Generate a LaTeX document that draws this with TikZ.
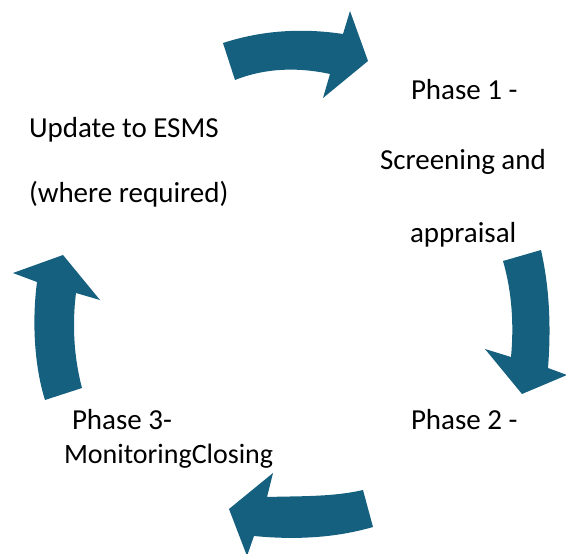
\documentclass[tikz,border=0pt]{standalone}
\usepackage{fontspec}
\setmainfont{Carlito}
\definecolor{arrowblue}{HTML}{16607F}
\begin{document}
\begin{tikzpicture}[x=1pt,y=-1pt,
  lbl/.style={anchor=base west,inner sep=0pt,outer sep=0pt,font=\fontsize{29}{34}\selectfont,text=black},
  blockarrow/.style={fill=arrowblue,draw=none}]
\useasboundingbox (0,0) rectangle (566,554);
% block arrows
\path[blockarrow] (223,43) .. controls (263,30) and (303,28) .. (343,34) -- (350,11) -- (368,61) -- (323,98) -- (330,74) .. controls (298,67) and (265,68) .. (235,80) -- cycle;
\path[blockarrow] (503,261) -- (541,250) .. controls (550,290) and (551,330) .. (548,368) -- (567,375) -- (522,394) -- (485,349) -- (511,357) .. controls (514,325) and (512,292) .. (503,261) -- cycle;
\path[blockarrow] (363,490) -- (373,527) .. controls (335,538) and (295,540) .. (254,536) -- (247,556) -- (229,509) -- (273,473) -- (267,497) .. controls (300,496) and (333,497) .. (363,490) -- cycle;
\path[blockarrow] (45,400) -- (82,388) .. controls (74,358) and (72,325) .. (76,293) -- (100,300) -- (63,255) -- (13,273) -- (37,282) .. controls (32,320) and (34,365) .. (45,400) -- cycle;
% texts
\node[lbl] (u1) at (29,137) {Update to ESMS};
\node[lbl] (u2) at (29,202) {(where required)};
\node[lbl] (p1a) at (411,99) {Phase 1 -};
\node[lbl] (p1b) at (380,169) {Screening and};
\node[lbl] (p1c) at (410,242) {appraisal};
\node[lbl] (p2) at (411,429) {Phase 2 -};
\node[lbl] (p3a) at (72,429) {Phase 3-};
\node[lbl,font=\fontsize{28}{34}\selectfont] (p3b) at (64,463) {MonitoringClosing};
\end{tikzpicture}
\end{document}
